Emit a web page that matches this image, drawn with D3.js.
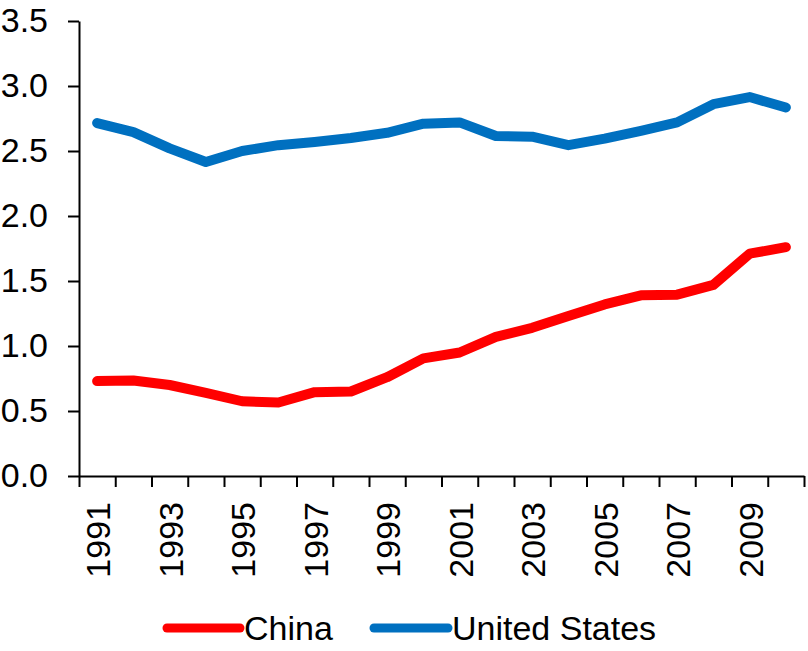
<!DOCTYPE html>
<html>
<head>
<meta charset="utf-8">
<script src="https://cdn.jsdelivr.net/npm/d3@7"></script>
<style>
  html, body { margin: 0; padding: 0; background: #fff; }
  svg { display: block; font-family: "Liberation Sans", Arial, Helvetica, sans-serif; }
</style>
</head>
<body>
<svg id="chart" width="808" height="651"></svg>
<script>
const years = [1991,1992,1993,1994,1995,1996,1997,1998,1999,2000,2001,2002,2003,2004,2005,2006,2007,2008,2009,2010];
const china = [0.73,0.735,0.70,0.64,0.575,0.565,0.645,0.65,0.76,0.905,0.95,1.07,1.14,1.23,1.32,1.39,1.395,1.47,1.71,1.76];
const unitedStates = [2.715,2.645,2.52,2.415,2.50,2.545,2.57,2.60,2.64,2.71,2.72,2.615,2.61,2.545,2.595,2.655,2.72,2.86,2.915,2.835];
const yTicks = [0,0.5,1.0,1.5,2.0,2.5,3.0,3.5];
const xLabelYears = [1991,1993,1995,1997,1999,2001,2003,2005,2007,2009];
const seriesNames = ["China","United States"];
const seriesColors = ["#FF0000","#0070C0"];

const svg = d3.select("#chart");
const mLeft = 79, mRight = 804, mTop = 21, mBottom = 476;
const fontSize = 34;

const x = d3.scaleBand().domain(years).range([mLeft, mRight]).padding(0);
const xEdge = d3.scaleLinear().domain([0, years.length]).range([mLeft, mRight]);
const y = d3.scaleLinear().domain([0, 3.5]).range([mBottom, mTop]);

// Y axis
const yAxis = svg.append("g")
  .attr("transform", `translate(${mLeft},0)`)
  .call(d3.axisLeft(y).tickValues(yTicks).tickFormat(d3.format(".1f")).tickSize(11).tickPadding(20).tickSizeOuter(0));
yAxis.selectAll("text").attr("font-size", fontSize).attr("fill", "#000").attr("font-family", "Liberation Sans, Arial, sans-serif");
yAxis.selectAll("line").attr("stroke", "#000").attr("stroke-width", 2);
yAxis.select(".domain").attr("stroke", "#000").attr("stroke-width", 2);

// X axis tick marks at category edges
const xAxis = svg.append("g")
  .attr("transform", `translate(0,${mBottom})`)
  .call(d3.axisBottom(xEdge).tickValues(d3.range(0, years.length + 1)).tickFormat("").tickSize(11).tickSizeOuter(0));
xAxis.selectAll("line").attr("stroke", "#000").attr("stroke-width", 2);
xAxis.select(".domain").attr("stroke", "#000").attr("stroke-width", 2);

// X labels
const xLab = svg.append("g")
  .attr("transform", `translate(0,${mBottom})`)
  .call(d3.axisBottom(x).tickValues(xLabelYears).tickSize(0).tickPadding(0));
xLab.select(".domain").remove();
xLab.selectAll("text")
  .attr("font-size", fontSize)
  .attr("fill", "#000")
  .attr("font-family", "Liberation Sans, Arial, sans-serif")
  .attr("text-anchor", "end")
  .attr("transform", "rotate(-90)")
  .attr("x", -26)
  .attr("y", 1)
  .attr("dy", "0.35em");

// Lines
const data = [china, unitedStates];
const line = d3.line()
  .x((d, i) => x(years[i]) + x.bandwidth() / 2)
  .y(d => y(d));
data.forEach((vals, k) => {
  svg.append("path")
    .datum(vals)
    .attr("d", line)
    .attr("fill", "none")
    .attr("stroke", seriesColors[k])
    .attr("stroke-width", 10)
    .attr("stroke-linejoin", "round")
    .attr("stroke-linecap", "round");
});

// Legend
const legendItems = [
  {x1: 167, x2: 240, tx: 244},
  {x1: 374, x2: 448, tx: 452}
];
const legY = 628;
legendItems.forEach((it, k) => {
  svg.append("line")
    .attr("x1", it.x1).attr("x2", it.x2)
    .attr("y1", legY).attr("y2", legY)
    .attr("stroke", seriesColors[k])
    .attr("stroke-width", 9)
    .attr("stroke-linecap", "round");
  svg.append("text")
    .attr("x", it.tx).attr("y", legY)
    .attr("dy", "0.36em")
    .attr("font-size", fontSize)
    .attr("fill", "#000")
    .text(seriesNames[k]);
});
</script>
</body>
</html>
